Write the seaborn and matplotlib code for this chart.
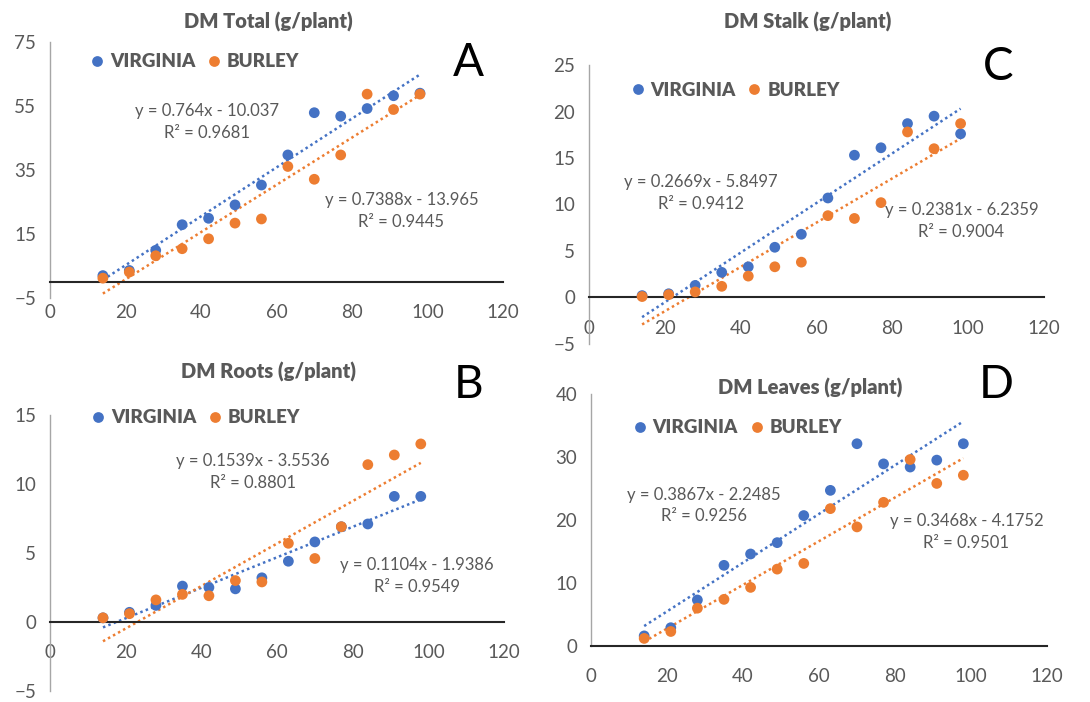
import matplotlib
matplotlib.use("Agg")
import matplotlib.pyplot as plt
import numpy as np
import pandas as pd
import seaborn as sns

# days after transplant
days = [14, 21, 28, 35, 42, 49, 56, 63, 70, 77, 84, 91, 98]

total_virginia = [2.0, 3.6, 9.9, 17.9, 19.9, 24.1, 30.3, 39.7, 52.9, 51.8, 54.2, 58.2, 59.0]
total_burley = [1.2, 3.1, 8.2, 10.4, 13.5, 18.4, 19.7, 36.1, 32.1, 39.7, 58.7, 53.9, 58.7]
roots_virginia = [0.3, 0.7, 1.2, 2.6, 2.5, 2.4, 3.2, 4.4, 5.8, 6.9, 7.1, 9.1, 9.1]
roots_burley = [0.3, 0.6, 1.6, 2.0, 1.9, 3.0, 2.9, 5.7, 4.6, 6.9, 11.4, 12.1, 12.9]
stalk_virginia = [0.2, 0.4, 1.3, 2.7, 3.3, 5.4, 6.8, 10.7, 15.3, 16.1, 18.7, 19.5, 17.6]
stalk_burley = [0.1, 0.3, 0.6, 1.2, 2.3, 3.3, 3.8, 8.8, 8.5, 10.2, 17.8, 16.0, 18.7]
leaves_virginia = [1.6, 2.9, 7.3, 12.8, 14.6, 16.4, 20.7, 24.7, 32.1, 28.9, 28.4, 29.5, 32.1]
leaves_burley = [1.2, 2.3, 6.0, 7.4, 9.3, 12.2, 13.1, 21.8, 18.9, 22.8, 29.6, 25.8, 27.1]

# linear trend lines as printed on the chart: (slope, intercept, R2)
trend_total = {"VIRGINIA": (0.764, -10.037, 0.9681), "BURLEY": (0.7388, -13.965, 0.9445)}
trend_roots = {"VIRGINIA": (0.1104, -1.9386, 0.9549), "BURLEY": (0.1539, -3.5536, 0.8801)}
trend_stalk = {"VIRGINIA": (0.2669, -5.8497, 0.9412), "BURLEY": (0.2381, -6.2359, 0.9004)}
trend_leaves = {"VIRGINIA": (0.3867, -2.2485, 0.9256), "BURLEY": (0.3468, -4.1752, 0.9501)}

titles = ["DM Total (g/plant)", "DM Roots (g/plant)", "DM Stalk (g/plant)", "DM Leaves (g/plant)"]
letters = ["A", "B", "C", "D"]
y_ticks = [[-5, 15, 35, 55, 75], [-5, 0, 5, 10, 15], [-5, 0, 5, 10, 15, 20, 25], [0, 10, 20, 30, 40]]
x_ticks = [0, 20, 40, 60, 80, 100, 120]

palette = {"VIRGINIA": "#4472C4", "BURLEY": "#ED7D31"}
grey = "#595959"

sns.set_theme(style="white")
plt.rcParams["font.family"] = ["Lato", "DejaVu Sans"]

fig = plt.figure(figsize=(10.9, 7.02), dpi=100)

# axes rectangles (left, bottom, width, height) in figure fraction
rects = [
    [0.0459, 0.5755, 0.4156, 0.3647],
    [0.0459, 0.0157, 0.4165, 0.3932],
    [0.5404, 0.5100, 0.4174, 0.3974],
    [0.5422, 0.0798, 0.4183, 0.3590],
]
title_pos = [(0.2459, 0.9687), (0.2459, 0.4701), (0.7413, 0.9687), (0.7431, 0.4473)]
letter_pos = [(110.8, 68.3), (110.6, 17.2), (107.9, 24.8), (106.7, 41.4)]
legend_pos = [(11.0, 68.8), (11.3, 14.8), (11.3, 22.3), (11.4, 34.6)]
# equation text centres
eq_pos = [
    {"VIRGINIA": (41.5, 50.0), "BURLEY": (93.1, 22.2)},
    {"VIRGINIA": (96.9, 3.35), "BURLEY": (53.7, 10.85)},
    {"VIRGINIA": (29.6, 11.25), "BURLEY": (98.2, 8.25)},
    {"VIRGINIA": (29.8, 22.3), "BURLEY": (98.8, 18.05)},
]

panels = [
    (total_virginia, total_burley, trend_total),
    (roots_virginia, roots_burley, trend_roots),
    (stalk_virginia, stalk_burley, trend_stalk),
    (leaves_virginia, leaves_burley, trend_leaves),
]

for i, (vir, bur, trend) in enumerate(panels):
    ax = fig.add_axes(rects[i])
    df = pd.DataFrame({
        "day": days + days,
        "dm": vir + bur,
        "variety": ["VIRGINIA"] * len(days) + ["BURLEY"] * len(days),
    })

    # dotted linear trend lines
    for name, (a, b, r2) in trend.items():
        xs = np.array([min(days), max(days)])
        sns.lineplot(x=xs, y=a * xs + b, ax=ax, color=palette[name],
                     linestyle=(0, (1, 1.3)), linewidth=1.8, zorder=2)

    sns.scatterplot(data=df, x="day", y="dm", hue="variety", palette=palette,
                    s=60, edgecolor="none", ax=ax, zorder=3)

    for name, (a, b, r2) in trend.items():
        sign = "-" if b < 0 else "+"
        txt = f"y = {a:g}x {sign} {abs(b):g}\nR² = {r2:g}"
        ex, ey = eq_pos[i][name]
        ax.text(ex, ey, txt, ha="center", va="center", fontsize=12,
                color=grey, linespacing=1.45)

    ax.set_xlim(0, 120)
    ax.set_ylim(y_ticks[i][0], y_ticks[i][-1])
    ax.set_xticks(x_ticks)
    ax.set_yticks(y_ticks[i])
    ax.set_xlabel("")
    ax.set_ylabel("")

    for s in ["top", "right"]:
        ax.spines[s].set_visible(False)
    ax.spines["bottom"].set_position(("data", 0))
    ax.spines["bottom"].set_color("#262626")
    ax.spines["bottom"].set_linewidth(1.5)
    ax.spines["left"].set_color("#A6A6A6")
    ax.spines["left"].set_linewidth(1.0)
    ax.tick_params(axis="x", direction="out", length=7, width=1.3, color="#262626",
                   labelsize=13.5, labelcolor=grey, pad=9)
    ax.tick_params(axis="y", direction="out", length=6, width=1.0, color="#A6A6A6",
                   labelsize=13.5, labelcolor=grey, pad=4)
    ax.patch.set_alpha(0)

    sns.move_legend(ax, "center left", bbox_to_anchor=legend_pos[i],
                    bbox_transform=ax.transData, ncol=2, frameon=False, title=None,
                    handlelength=0.6, handletextpad=0.38, columnspacing=0.7,
                    borderaxespad=0, borderpad=0,
                    labelcolor=grey, prop={"weight": "heavy", "size": 13.5})

    lx, ly = letter_pos[i]
    ax.text(lx, ly, letters[i], ha="center", va="center", fontsize=33,
            color="black", clip_on=False)

    fig.text(title_pos[i][0], title_pos[i][1], titles[i], ha="center", va="center",
             fontsize=14.5, fontweight="heavy", color=grey)

fig.savefig("out.png", dpi=100, facecolor="white")
